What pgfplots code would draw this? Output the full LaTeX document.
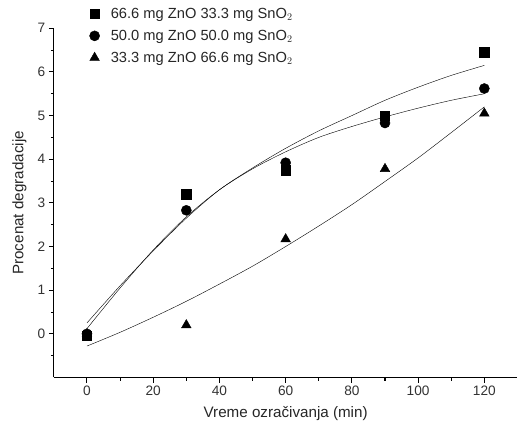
\documentclass[border={9pt 8pt 0pt 4pt}]{standalone}
\usepackage{fontspec}
\setmainfont{Liberation Sans}
\usepackage{pgfplots}
\pgfplotsset{compat=1.18}

\begin{document}
\begin{tikzpicture}
\begin{axis}[
  scale only axis, width=458pt, height=345pt,
  xmin=-10, xmax=130, ymin=-1, ymax=7,
  axis x line=bottom, axis y line=left,
  axis line style={-, line width=1.1pt},
  xtick={0,20,...,120}, minor xtick={10,30,50,70,90,110},
  ytick={0,1,...,7}, minor ytick={-0.5,0.5,1.5,2.5,3.5,4.5,5.5,6.5},
  tick align=outside, tick style={black, line width=1pt},
  major tick length=5pt, minor tick length=3pt,
  /pgf/number format/assume math mode=true,
  tick label style={font=\fontsize{13.5}{15}\selectfont, text=black!80},
  label style={font=\fontsize{15}{17}\selectfont, text=black!85},
  xlabel={Vreme ozračivanja (min)},
  ylabel={Procenat degradacije},
  xlabel style={yshift=-4pt},
  ylabel style={yshift=4pt},
  legend style={at={(0.07,1.07)}, anchor=north west, draw=none, fill=none,
    font=\fontsize{14.5}{16}\selectfont, row sep=6pt, text=black!85,
    /tikz/every odd column/.append style={column sep=9pt}},
  legend cell align=left,
  clip=false,
]
% fitted curves
\addplot[black, thin, smooth, forget plot] coordinates {(0,0.25) (10,1.1) (20,1.9) (30,2.65) (40,3.3) (50,3.8) (60,4.25) (70,4.65) (80,5.0) (90,5.35) (100,5.65) (110,5.92) (120,6.15)};
\addplot[black, thin, smooth, forget plot] coordinates {(0,0.12) (10,1.05) (20,1.92) (30,2.68) (40,3.3) (50,3.78) (60,4.17) (70,4.5) (80,4.75) (90,4.97) (100,5.17) (110,5.35) (120,5.5)};
\addplot[black, thin, smooth, forget plot] coordinates {(0,-0.28) (10,0.035) (20,0.38) (30,0.745) (40,1.14) (50,1.55) (60,2.0) (70,2.47) (80,2.96) (90,3.49) (100,4.03) (110,4.61) (120,5.2)};
% measured points
\addplot[only marks, mark=square*, mark size=4.6pt, black] coordinates {(0,-0.05) (30,3.2) (60,3.75) (90,5.0) (120,6.45)};
\addlegendentry{66.6 mg ZnO 33.3 mg SnO$_2$}
\addplot[only marks, mark=*, mark size=5pt, black] coordinates {(0,0.0) (30,2.83) (60,3.92) (90,4.83) (120,5.62)};
\addlegendentry{50.0 mg ZnO 50.0 mg SnO$_2$}
\addplot[only marks, mark=triangle*, mark size=5.5pt, black] coordinates {(0,0.0) (30,0.2) (60,2.17) (90,3.78) (120,5.05)};
\addlegendentry{33.3 mg ZnO 66.6 mg SnO$_2$}
\end{axis}
\end{tikzpicture}
\end{document}
